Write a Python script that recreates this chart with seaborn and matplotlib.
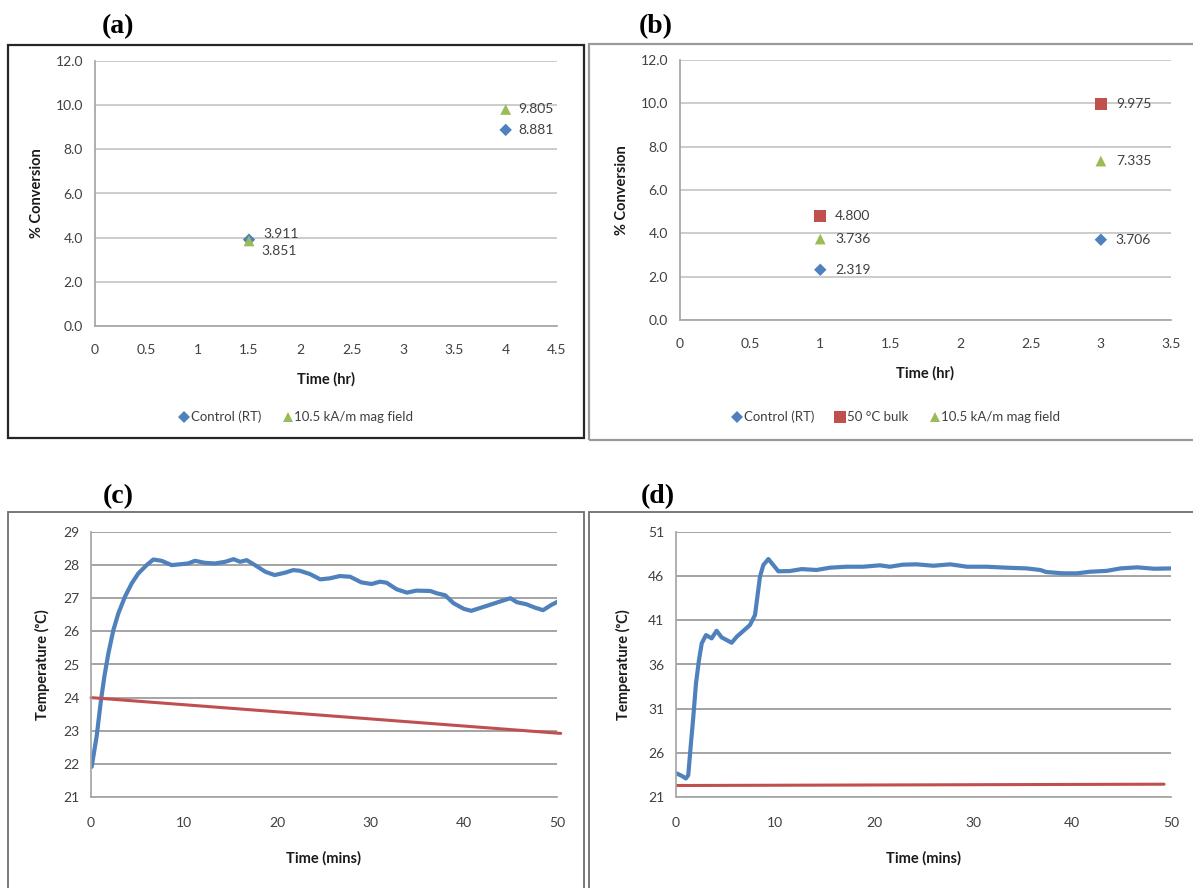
import numpy as np
import pandas as pd
import seaborn as sns
import matplotlib.pyplot as plt
from matplotlib.patches import Rectangle
from matplotlib.ticker import FormatStrFormatter, MultipleLocator

# (a) % conversion, control vs. mag field
a_time = [1.5, 4.0]
a_control = [3.911, 8.881]
a_mag = [3.851, 9.805]

# (b) % conversion, control vs. 50 °C bulk vs. mag field
b_time = [1.0, 3.0]
b_control = [2.319, 3.706]
b_bulk = [4.800, 9.975]
b_mag = [3.736, 7.335]

# (c) temperature trace
c_time = [0.07, 0.6, 1.07, 1.43, 1.86, 2.4, 2.93, 3.65, 4.37, 5.08, 5.97, 6.69,
          7.58, 8.65, 9.7, 10.4, 11.16, 12.2, 13.3, 14.4, 15.3, 16.0, 16.7, 17.6,
          18.7, 19.7, 20.8, 21.7, 22.4, 23.5, 24.6, 25.6, 26.7, 27.8, 29.0, 30.1,
          31.0, 31.7, 32.8, 33.9, 34.9, 36.4, 37.1, 38.0, 38.9, 40.0, 40.8, 41.9,
          43.0, 44.1, 45.0, 45.7, 46.7, 47.6, 48.5, 49.4, 50.1]
c_temp = [21.91, 22.82, 23.92, 24.63, 25.33, 26.04, 26.54, 27.05, 27.45, 27.75, 28.0, 28.17,
          28.13, 28.0, 28.03, 28.05, 28.13, 28.07, 28.05, 28.1, 28.18, 28.1, 28.15, 28.0,
          27.8, 27.7, 27.77, 27.85, 27.83, 27.73, 27.57, 27.6, 27.67, 27.65, 27.48, 27.43,
          27.5, 27.47, 27.27, 27.17, 27.23, 27.22, 27.15, 27.09, 26.85, 26.68, 26.62, 26.72,
          26.82, 26.92, 27.0, 26.88, 26.82, 26.72, 26.64, 26.8, 26.9]
c_ref_time = [0.0, 50.4]
c_ref_temp = [24.0, 22.92]

# (d) temperature trace
d_time = [0.07, 0.57, 1.0, 1.24, 1.48, 1.75, 2.02, 2.32, 2.6, 3.03, 3.6, 4.1, 4.61,
          5.12, 5.62, 6.13, 6.8, 7.47, 7.98, 8.22, 8.48, 8.82, 9.33, 9.83, 10.34,
          11.5, 12.7, 14.2, 15.55, 17.2, 18.9, 20.6, 21.6, 22.9, 24.3, 26.0, 27.7,
          29.4, 31.4, 33.4, 35.4, 36.8, 37.4, 39.1, 40.5, 41.8, 43.5, 44.9, 46.6,
          48.3, 50.1]
d_temp = [23.67, 23.4, 23.1, 23.48, 26.7, 30.1, 33.87, 36.5, 38.4, 39.33, 38.96, 39.82, 39.07,
          38.77, 38.46, 39.14, 39.8, 40.47, 41.6, 43.67, 45.94, 47.26, 47.94, 47.26, 46.55,
          46.58, 46.8, 46.7, 46.96, 47.07, 47.07, 47.23, 47.07, 47.3, 47.34, 47.18, 47.34,
          47.07, 47.07, 46.96, 46.88, 46.7, 46.47, 46.32, 46.32, 46.5, 46.6, 46.88, 47.0,
          46.84, 46.88]
d_ref_time = [0.0, 49.3]
d_ref_temp = [22.3, 22.45]
d_yticks = [21, 26, 31, 36, 41, 46, 51]

BLUE, RED, GREEN = "#4F81BD", "#C0504D", "#9BBB59"
TXT = "#404040"
W, H = 1193, 888

sns.set_theme(style="white")
plt.rcParams["font.family"] = ["Lato", "DejaVu Sans"]

fig = plt.figure(figsize=(W / 100, H / 100), dpi=100)


def px_axes(l, t, r, b):
    return fig.add_axes([l / W, 1 - b / H, (r - l) / W, (b - t) / H])


def box(l, t, r, b, color, lw):
    fig.add_artist(Rectangle((l / W, 1 - b / H), (r - l) / W, (b - t) / H,
                             transform=fig.transFigure, fill=False,
                             edgecolor=color, linewidth=lw))


def style(ax, grid_color, xlabel, ylabel, xpad, xlabelpad, ylabelpad):
    sns.despine(ax=ax)
    ax.spines["left"].set_color("#a6a6a6")
    ax.spines["bottom"].set_color("#a6a6a6")
    ax.yaxis.grid(True, color=grid_color, linewidth=1.1)
    ax.set_axisbelow(True)
    ax.tick_params(axis="both", direction="out", length=3.6, width=0.9,
                   color="#a6a6a6", labelsize=10, labelcolor=TXT)
    ax.tick_params(axis="x", pad=xpad)
    ax.tick_params(axis="y", pad=5)
    ax.set_xlabel(xlabel, fontsize=10.5, fontweight="bold", color="#1a1a1a", labelpad=xlabelpad)
    ax.set_ylabel(ylabel, fontsize=10.5, fontweight="bold", color="#1a1a1a", labelpad=ylabelpad)


def scatter_panel(ax, df, palette, markers, sizes, labels, legend_x):
    sns.scatterplot(data=df, x="time", y="value", hue="series", style="series",
                    palette=palette, markers=markers, size="series", sizes=sizes,
                    linewidth=0, ax=ax, legend=True)
    for (x, y, txt, dx, dy) in labels:
        ax.annotate(txt, (x, y), xytext=(dx, dy), textcoords="offset pixels",
                    fontsize=10, color=TXT, ha="left", va="center")
    ax.set_ylim(0, 12)
    ax.yaxis.set_major_locator(MultipleLocator(2))
    ax.yaxis.set_major_formatter(FormatStrFormatter("%.1f"))
    ax.xaxis.set_major_locator(MultipleLocator(0.5))
    ax.xaxis.set_major_formatter(FormatStrFormatter("%g"))
    style(ax, "#bfbfbf", "Time (hr)", "% Conversion", xpad=9, xlabelpad=12, ylabelpad=8)
    sns.move_legend(ax, "center", bbox_to_anchor=(legend_x, 1 - 417 / H),
                    bbox_transform=fig.transFigure, ncol=len(palette), frameon=False,
                    title=None, fontsize=9.5, handletextpad=0.1, columnspacing=1.6,
                    handlelength=0.8)
    for t in ax.get_legend().get_texts():
        t.set_color(TXT)


# ---- (a)
ax_a = px_axes(95, 61, 557, 326)
df_a = pd.DataFrame({
    "time": a_time * 2,
    "value": a_control + a_mag,
    "series": ["Control (RT)"] * 2 + ["10.5 kA/m mag field"] * 2,
})
scatter_panel(
    ax_a, df_a,
    palette={"Control (RT)": BLUE, "10.5 kA/m mag field": GREEN},
    markers={"Control (RT)": "D", "10.5 kA/m mag field": "^"},
    sizes={"Control (RT)": 40, "10.5 kA/m mag field": 60},
    labels=[(a_time[0], a_control[0], f"{a_control[0]:.3f}", 14, 6),
            (a_time[0], a_mag[0], f"{a_mag[0]:.3f}", 12, -10),
            (a_time[1], a_control[1], f"{a_control[1]:.3f}", 13, 0),
            (a_time[1], a_mag[1], f"{a_mag[1]:.3f}", 13, 0)],
    legend_x=296 / W,
)
ax_a.set_xlim(0, 4.5)

# ---- (b)
ax_b = px_axes(680, 60, 1171, 320)
df_b = pd.DataFrame({
    "time": b_time * 3,
    "value": b_control + b_bulk + b_mag,
    "series": ["Control (RT)"] * 2 + ["50 °C bulk"] * 2 + ["10.5 kA/m mag field"] * 2,
})
scatter_panel(
    ax_b, df_b,
    palette={"Control (RT)": BLUE, "50 °C bulk": RED, "10.5 kA/m mag field": GREEN},
    markers={"Control (RT)": "D", "50 °C bulk": "s", "10.5 kA/m mag field": "^"},
    sizes={"Control (RT)": 40, "50 °C bulk": 70, "10.5 kA/m mag field": 60},
    labels=[(x, y, f"{y:.3f}", 15, 0)
            for xs, ys in [(b_time, b_control), (b_time, b_bulk), (b_time, b_mag)]
            for x, y in zip(xs, ys)],
    legend_x=896 / W,
)
ax_b.set_xlim(0, 3.5)

# ---- (c)
ax_c = px_axes(91, 532, 557, 797)
sns.lineplot(x=c_time, y=c_temp, color=BLUE, linewidth=3, ax=ax_c)
sns.lineplot(x=c_ref_time, y=c_ref_temp, color=RED, linewidth=2.2, ax=ax_c)
ax_c.lines[-1].set_clip_on(False)
ax_c.set_xlim(0, 50)
ax_c.set_ylim(21, 29)
ax_c.yaxis.set_major_locator(MultipleLocator(1))
ax_c.xaxis.set_major_locator(MultipleLocator(10))
style(ax_c, "#8c8c8c", "Time (mins)", "Temperature (ᵒC)", xpad=11, xlabelpad=16, ylabelpad=9)

# ---- (d)
ax_d = px_axes(676, 532, 1171, 797)
sns.lineplot(x=d_time, y=d_temp, color=BLUE, linewidth=3, ax=ax_d)
sns.lineplot(x=d_ref_time, y=d_ref_temp, color=RED, linewidth=2.2, ax=ax_d)
ax_d.set_xlim(0, 50)
ax_d.set_ylim(21, 51)
ax_d.set_yticks(d_yticks)
ax_d.xaxis.set_major_locator(MultipleLocator(10))
style(ax_d, "#8c8c8c", "Time (mins)", "Temperature (ᵒC)", xpad=11, xlabelpad=16, ylabelpad=12)

# panel frames
box(8, 45, 584, 438, "#262626", 1.6)
box(589, 44, 1196, 440, "#9a9a9a", 1.6)
box(8, 512, 584, 892, "#6e6e6e", 1.3)
box(589, 512, 1196, 892, "#6e6e6e", 1.3)

# panel letters
for label, x, y in [("(a)", 118, 27), ("(b)", 656, 27), ("(c)", 118, 497), ("(d)", 658, 497)]:
    fig.text(x / W, 1 - y / H, label, ha="center", va="center", fontsize=20,
             fontweight="bold", family="Liberation Serif", color="black")

fig.savefig("out.png", dpi=100)
